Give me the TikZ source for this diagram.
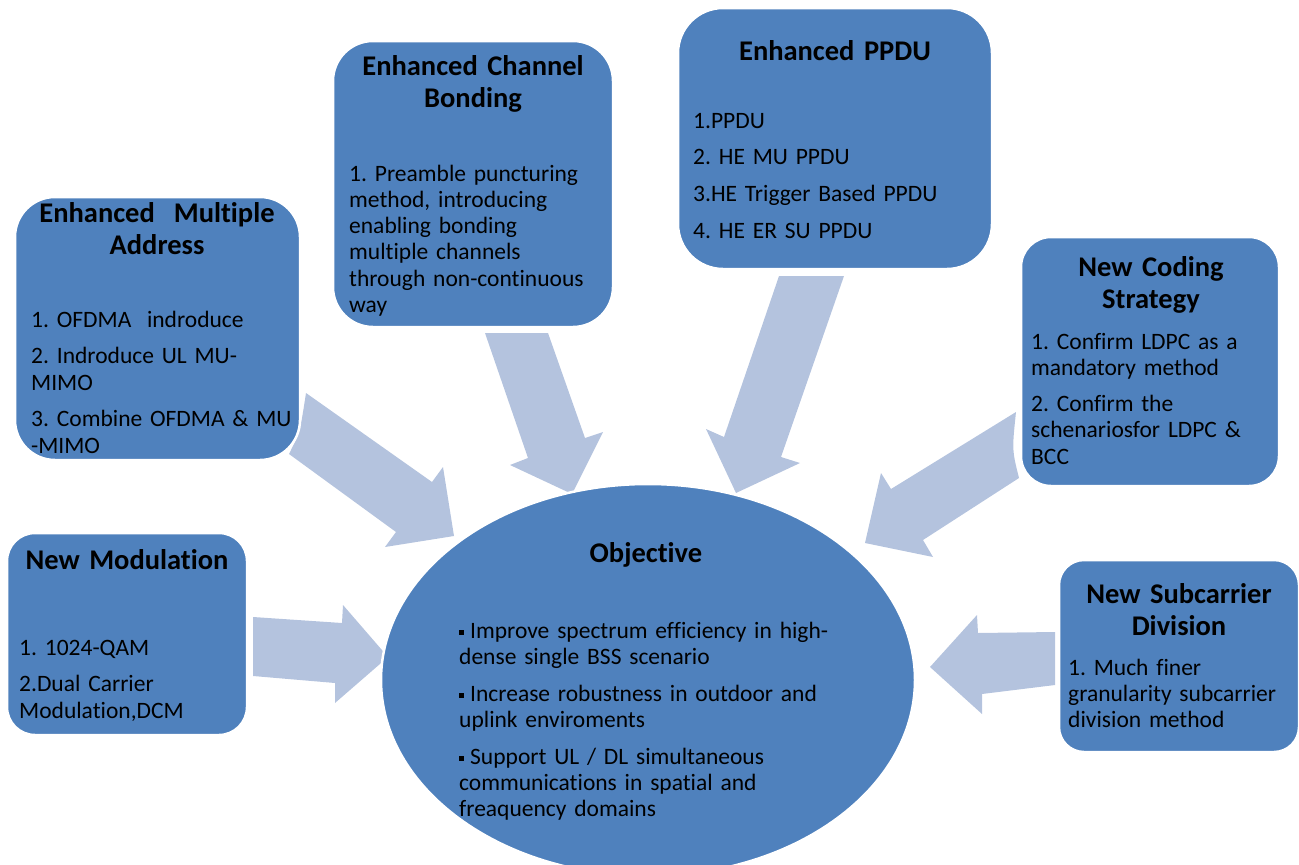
\documentclass[tikz,border=0pt]{standalone}
\usepackage{fontspec}
\setmainfont{Carlito}[Ligatures=NoCommon]
\usetikzlibrary{shapes.geometric}
\definecolor{boxblue}{RGB}{79,129,189}
\definecolor{arrowblue}{RGB}{180,195,222}
\tikzset{
  box/.style={fill=boxblue, draw=white, line width=2.5pt, inner sep=0pt},
  ell/.style={ellipse, fill=boxblue, draw=white, line width=2.5pt, inner sep=0pt},
  bigarrow/.style={fill=arrowblue, draw=none},
  ttl/.style={anchor=base, inner sep=0pt, text width=320pt, align=center, font=\fontsize{28.5}{32}\selectfont\bfseries},
  body/.style={anchor=base west, inner sep=0pt, text width=420pt, align=left, font=\fontsize{23.5}{26.3}\selectfont},
}
\newcommand{\bul}{\rule[3.5pt]{5pt}{5pt}\hspace{6pt}}
\frenchspacing
\begin{document}
\frenchspacing
\begin{tikzpicture}[x=1pt, y=-1pt]
\useasboundingbox (0,0) rectangle (1299,865);

% block arrows
\fill[bigarrow] (306,393) -- (432,482) -- (443,467) -- (454,536) -- (385,547) -- (396,532) -- (289,454) .. controls (300,432) .. (306,393) -- cycle;
\fill[bigarrow] (485,333) -- (548,333) -- (585,438) -- (603,432) -- (572,494) -- (510,465) -- (528,458) -- cycle;
\fill[bigarrow] (779,276) -- (844,276) -- (781,457) -- (800,463) -- (736,493) -- (706,429) -- (724,437) -- cycle;
\fill[bigarrow] (1016,412) .. controls (1012,450) .. (1019,478) -- (923,540) -- (933,557) -- (865,543) -- (881,473) -- (891,489) -- cycle;
\fill[bigarrow] (253,617) -- (342,623) -- (343,605) -- (388,657) -- (335,703) -- (335,683) -- (253,676) -- cycle;
\fill[bigarrow] (1055,632) -- (978,633) -- (977,615) -- (930,667) -- (982,714) -- (982,694) -- (1055,685) -- cycle;

% boxes
\node[box, rounded corners=40pt, minimum width=285pt, minimum height=263pt] (ma) at (157.5,328.5) {};
\node[box, rounded corners=40pt, minimum width=280pt, minimum height=286pt] (cb) at (473,184) {};
\node[box, rounded corners=45pt, minimum width=314pt, minimum height=261pt] (pp) at (835,138.5) {};
\node[box, rounded corners=30pt, minimum width=258pt, minimum height=249pt] (cs) at (1150,361.5) {};
\node[box, rounded corners=28pt, minimum width=240pt, minimum height=202pt] (nm) at (127,634) {};
\node[box, rounded corners=25pt, minimum width=240pt, minimum height=192pt] (sd) at (1179,656) {};
\node[ell, minimum width=534pt, minimum height=392pt] (obj) at (648,680) {};

% titles
\node[ttl] (ma-t) at (157,222) {Enhanced~ Multiple\\Address};
\node[ttl] (cb-t) at (473,75) {Enhanced Channel\\Bonding};
\node[ttl] (pp-t) at (835,60) {Enhanced PPDU};
\node[ttl] (cs-t) at (1151,276) {New Coding\\Strategy};
\node[ttl] (nm-t) at (127,569) {New Modulation};
\node[ttl] (sd-t) at (1179,603) {New Subcarrier\\Division};
\node[ttl] (obj-t) at (646,562) {Objective};

% bodies
\node[body] (ma-b) at (31,327) {1. OFDMA~ indroduce\\[10.5pt]2. Indroduce UL MU-\\MIMO\\[10.5pt]3. Combine OFDMA \& MU\\-MIMO};
\node[body] (cb-b) at (349,181) {1. Preamble puncturing\\method, introducing\\enabling bonding\\multiple channels\\through non-continuous\\way};
\node[body] (pp-b) at (693,128) {1.PPDU\\[10.5pt]2. HE MU PPDU\\[10.5pt]3.HE Trigger Based PPDU\\[10.5pt]4. HE ER SU PPDU};
\node[body] (cs-b) at (1031,349) {1. Confirm LDPC as a\\mandatory method\\[10pt]2. Confirm the\\schenariosfor LDPC \&\\BCC};
\node[body] (nm-b) at (19,655) {1. 1024-QAM\\[10.5pt]2.Dual Carrier\\Modulation,DCM};
\node[body] (sd-b) at (1068,675) {1. Much finer\\granularity subcarrier\\division method};
\node[body] (obj-b) at (459,638) {\bul Improve spectrum efficiency in high-\\dense single BSS scenario\\[10.5pt]\bul Increase robustness in outdoor and\\uplink enviroments\\[10.5pt]\bul Support UL / DL simultaneous\\communications in spatial and\\freaquency domains};
\end{tikzpicture}
\end{document}
